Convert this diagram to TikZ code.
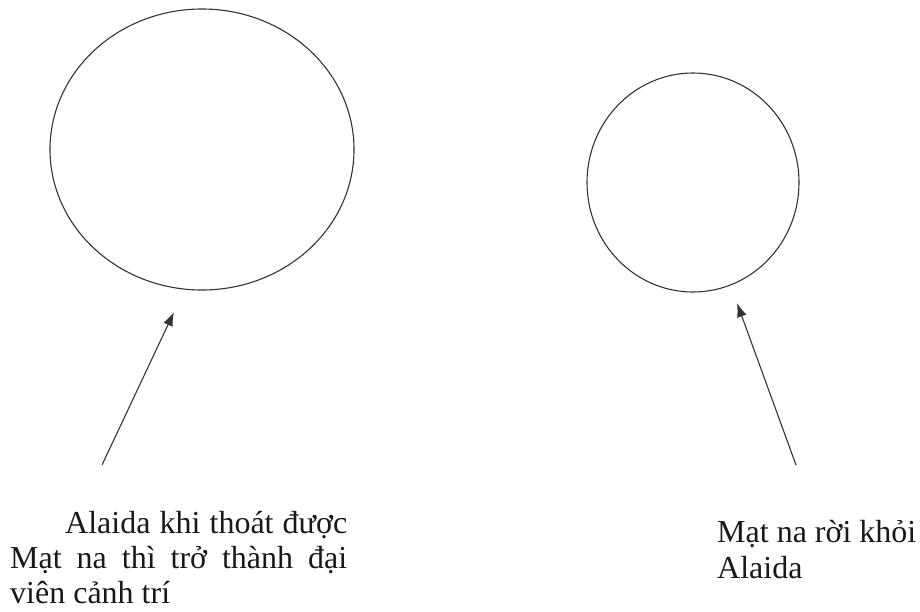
\documentclass[tikz,border=0pt]{standalone}
\usepackage{fontspec}
\setmainfont{Liberation Serif}
\usetikzlibrary{shapes.geometric,arrows.meta}
\tikzset{
  ring/.style={ellipse, draw=black!80, line width=1.1pt, inner sep=0pt},
  pointer/.style={draw=black!80, line width=1.1pt, -{Latex[length=14pt,width=10pt]}},
  caption/.style={inner sep=0pt, anchor=base west, text=black!90, font=\fontsize{32}{35}\selectfont}
}
\begin{document}
\begin{tikzpicture}[x=1pt,y=-1pt]
\useasboundingbox (0,0) rectangle (920,611);
\node[ring, minimum width=304pt, minimum height=281pt] (big) at (202,149.5) {};
\node[ring, minimum width=212pt, minimum height=219pt] (small) at (693,182.5) {};
\coordinate (ls) at (102,465);
\coordinate (lt) at (174,312);
\coordinate (rs) at (796,465);
\coordinate (rt) at (737,303);
\draw[pointer] (ls) -- (lt);
\draw[pointer] (rs) -- (rt);
\node[caption] (ltext) at (10,533) {\parbox[t]{337pt}{\hspace*{55pt}Alaida khi thoát được\linebreak Mạt na thì trở thành đại\linebreak viên cảnh trí}};
\node[caption] (rtext) at (717,542) {\parbox[t]{203pt}{\raggedright\fontsize{32}{36}\selectfont Mạt na rời khỏi\\Alaida}};
\end{tikzpicture}
\end{document}
